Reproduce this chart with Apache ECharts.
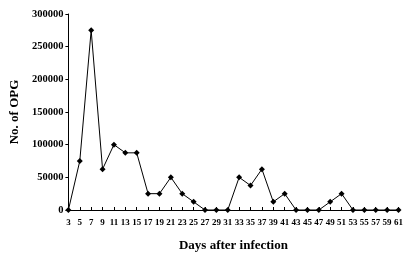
<!DOCTYPE html>
<html>
<head>
<meta charset="utf-8">
<script src="https://cdn.jsdelivr.net/npm/echarts@6/dist/echarts.min.js"></script>
<style>
  html, body { margin: 0; padding: 0; background: #fff; }
  #main { width: 406px; height: 258px; }
</style>
</head>
<body>
<div id="main"></div>
<script>
// days after infection
const days = ["3", "5", "7", "9", "11", "13", "15", "17", "19", "21", "23", "25", "27", "29", "31",
  "33", "35", "37", "39", "41", "43", "45", "47", "49", "51", "53", "55", "57", "59", "61"];
// OPG counts
const opg = [0, 75000, 275000, 62500, 100000, 87500, 87500, 25000, 25000, 50000, 25000, 12500, 0, 0, 0,
  50000, 37500, 62500, 12500, 25000, 0, 0, 0, 12500, 25000, 0, 0, 0, 0, 0];

const font = "Liberation Serif";
const chart = echarts.init(document.getElementById("main"));

chart.setOption({
  animation: false,
  grid: { left: 60, right: 6, top: 14, bottom: 48 },
  xAxis: {
    type: "category",
    data: days,
    boundaryGap: false,
    name: "Days after infection",
    nameLocation: "middle",
    nameGap: 29,
    nameTextStyle: { fontFamily: font, fontWeight: "bold", fontSize: 13, color: "#000" },
    axisLine: { lineStyle: { color: "#000", width: 1 } },
    axisTick: { inside: true, length: 3, alignWithLabel: true, lineStyle: { color: "#000" } },
    axisLabel: { interval: 0, margin: 8, fontFamily: font, fontWeight: "bold", fontSize: 9, color: "#000" }
  },
  yAxis: {
    type: "value",
    min: 0,
    max: 300000,
    interval: 50000,
    name: "No. of OPG",
    nameLocation: "middle",
    nameGap: 46,
    nameTextStyle: { fontFamily: font, fontWeight: "bold", fontSize: 13, color: "#000" },
    axisLine: { show: true, lineStyle: { color: "#000", width: 1 } },
    axisTick: { show: true, length: 3, lineStyle: { color: "#000" } },
    splitLine: { show: false },
    axisLabel: {
      margin: 5, fontFamily: font, fontWeight: "bold", fontSize: 10.5, color: "#000",
      formatter: (v) => String(v)
    }
  },
  series: [{
    type: "line",
    data: opg,
    symbol: "diamond",
    symbolSize: 6,
    itemStyle: { color: "#000" },
    lineStyle: { color: "#000", width: 1 }
  }]
});
</script>
</body>
</html>
